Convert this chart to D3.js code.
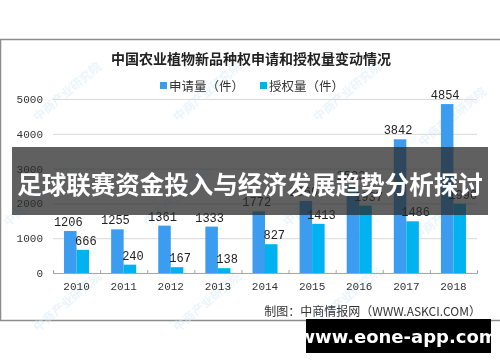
<!DOCTYPE html>
<html lang="zh">
<head>
<meta charset="UTF-8">
<title>中国农业植物新品种权申请和授权量变动情况</title>
<script src="https://d3js.org/d3.v7.min.js"></script>
<style>
  body { margin: 0; background: #fff; }
  svg { display: block; }
</style>
</head>
<body>
<div id="chart"></div>
<script>
// data
const years = ["2010", "2011", "2012", "2013", "2014", "2015", "2016", "2017", "2018"];
const applyCount = [1206, 1255, 1361, 1333, 1772, 2069, 2523, 3842, 4854];
const grantCount = [666, 240, 167, 138, 827, 1413, 1937, 1486, 1990];
const yTicks = [0, 1000, 2000, 3000, 4000, 5000];
const seriesNames = ["申请量（件）", "授权量（件）"];
const colors = ["#3c9df0", "#00b3f0"];

const width = 500, height = 362;
const svg = d3.select("#chart").append("svg")
    .attr("width", width).attr("height", height);

// chart frame
svg.append("rect")
    .attr("x", 0.5).attr("y", 39.5)
    .attr("width", width + 2).attr("height", 281)
    .attr("fill", "#fff").attr("stroke", "#8c8c8c").attr("stroke-width", 1.5);

// faint watermarks
const wm = svg.append("g").attr("fill", "#d6eaf8").attr("font-family", "Noto Sans CJK SC")
    .attr("font-size", 12).attr("font-weight", "bold").attr("opacity", 0.5);
[[70, 95], [210, 95], [350, 95], [455, 120], [40, 200], [180, 200], [320, 200], [450, 215],
 [70, 305], [210, 305], [350, 300]].forEach(([x, y]) => {
    wm.append("text").attr("transform", `translate(${x},${y}) rotate(-40)`)
        .attr("text-anchor", "middle").text("中商产业研究院");
});

// title
svg.append("text")
    .attr("x", 251).attr("y", 64)
    .attr("text-anchor", "middle")
    .attr("font-family", "Noto Sans CJK SC").attr("font-weight", "bold")
    .attr("font-size", 14).attr("fill", "#222")
    .text("中国农业植物新品种权申请和授权量变动情况");

// legend
const legend = svg.append("g").attr("font-family", "Noto Sans CJK SC").attr("font-size", 12.5);
seriesNames.forEach((name, i) => {
    const lx = 160 + i * 100;
    legend.append("rect").attr("x", lx).attr("y", 82).attr("width", 7).attr("height", 7).attr("fill", colors[i]);
    legend.append("text").attr("x", lx + 9).attr("y", 90.5).attr("fill", "#333").text(name);
});

// scales
const x = d3.scaleBand().domain(years).range([53, 477]).paddingInner(0).paddingOuter(0);
const y = d3.scaleLinear().domain([0, 5000]).range([273, 99]);
const sub = d3.scaleBand().domain([0, 1]).range([0, x.bandwidth()]).paddingOuter(0.88).paddingInner(0);

// gridlines
svg.append("g").selectAll("line").data(yTicks.filter(d => d > 0)).join("line")
    .attr("x1", 53).attr("x2", 477)
    .attr("y1", d => y(d) + 0.5).attr("y2", d => y(d) + 0.5)
    .attr("stroke", "#d9d9d9");

// y tick labels
svg.append("g").selectAll("text").data(yTicks).join("text")
    .attr("x", 43).attr("y", d => y(d) + 4)
    .attr("text-anchor", "end")
    .attr("font-family", "Liberation Mono").attr("font-size", 11).attr("fill", "#333")
    .text(d => d);

// bars
const groups = svg.append("g").selectAll("g").data(years).join("g")
    .attr("transform", d => `translate(${x(d)},0)`);
[applyCount, grantCount].forEach((vals, s) => {
    groups.append("rect")
        .attr("x", sub(s))
        .attr("width", sub.bandwidth())
        .attr("y", (d, i) => y(vals[i]))
        .attr("height", (d, i) => y(0) - y(vals[i]))
        .attr("fill", colors[s]);
});

// value labels
[applyCount, grantCount].forEach((vals, s) => {
    groups.append("text")
        .attr("x", sub(s) + sub.bandwidth() / 2 + (s === 0 ? -2 : 3))
        .attr("y", (d, i) => y(vals[i]) - 5)
        .attr("text-anchor", "middle")
        .attr("font-family", "Liberation Mono").attr("font-size", 12).attr("fill", "#222")
        .text((d, i) => vals[i]);
});

// x axis
svg.append("line")
    .attr("x1", 53).attr("x2", 477).attr("y1", 273.5).attr("y2", 273.5)
    .attr("stroke", "#a6a6a6");
svg.append("g").selectAll("line").data(years.concat(["end"])).join("line")
    .attr("x1", (d, i) => 53.5 + i * x.bandwidth()).attr("x2", (d, i) => 53.5 + i * x.bandwidth())
    .attr("y1", 270).attr("y2", 274).attr("stroke", "#a6a6a6");
svg.append("g").selectAll("text").data(years).join("text")
    .attr("x", d => x(d) + x.bandwidth() / 2).attr("y", 290)
    .attr("text-anchor", "middle")
    .attr("font-family", "Liberation Mono").attr("font-size", 11).attr("fill", "#333")
    .text(d => d);

// source
svg.append("text")
    .attr("x", 481).attr("y", 316)
    .attr("text-anchor", "end")
    .attr("font-family", "Noto Sans CJK SC").attr("font-size", 12).attr("fill", "#333")
    .text("制图：中商情报网（WWW.ASKCI.COM）");

// overlay banner
svg.append("rect")
    .attr("x", 12).attr("y", 147).attr("width", 476).attr("height", 68)
    .attr("fill", "#2b2b2b").attr("opacity", 0.75);
svg.append("text")
    .attr("x", 250).attr("y", 194)
    .attr("text-anchor", "middle")
    .attr("font-family", "Noto Sans CJK SC").attr("font-weight", "bold")
    .attr("font-size", 24.5).attr("fill", "#fff")
    .text("足球联赛资金投入与经济发展趋势分析探讨");

// site badge
svg.append("rect")
    .attr("x", 306).attr("y", 319).attr("width", 185).attr("height", 34)
    .attr("fill", "#000");
svg.append("text")
    .attr("x", 398).attr("y", 343)
    .attr("text-anchor", "middle")
    .attr("font-family", "DejaVu Sans").attr("font-weight", "bold")
    .attr("font-size", 18).attr("fill", "#fff")
    .text("www.eone-app.com");
</script>
</body>
</html>
